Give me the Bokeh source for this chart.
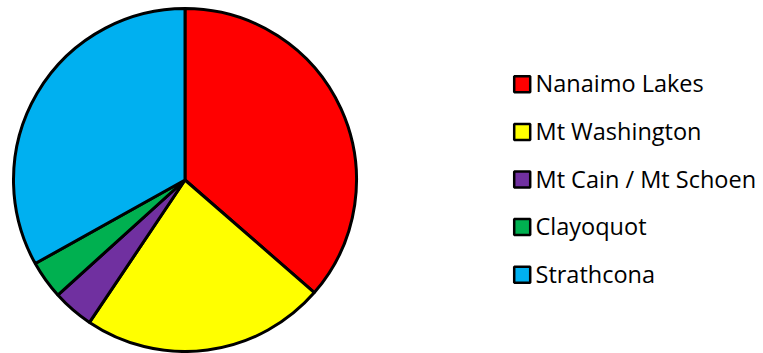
import numpy as np
from bokeh.plotting import figure
from bokeh.models import Range1d, ColumnDataSource
from bokeh.core.properties import value
from bokeh.embed import file_html
from bokeh.resources import INLINE

categories = ["Nanaimo Lakes", "Mt Washington", "Mt Cain / Mt Schoen", "Clayoquot", "Strathcona"]
shares = [36.4, 23.0, 3.9, 3.6, 33.1]
colors = ["#FF0000", "#FFFF00", "#7030A0", "#00B050", "#00B0F0"]

W, H = 763, 353
p = figure(width=W, height=H, output_backend="svg", toolbar_location=None,
           x_range=Range1d(0, W), y_range=Range1d(0, H),
           min_border=0, outline_line_color=None)
p.axis.visible = False
p.grid.visible = False
p.background_fill_color = "white"
p.border_fill_color = "white"

vals = np.array(shares, dtype=float)
frac = vals / vals.sum()
cum = np.concatenate([[0], np.cumsum(frac)]) * 2 * np.pi
# clockwise from 12 o'clock -> bokeh angles (counterclockwise from +x)
start = np.pi / 2 - cum[1:]
end = np.pi / 2 - cum[:-1]

cx, cy, r = 184.5, H - 179.5, 171.5
src = ColumnDataSource(dict(start=start, end=end, color=colors, name=categories))
p.wedge(x=cx, y=cy, radius=r, start_angle="start", end_angle="end",
        fill_color="color", line_color="black", line_width=3, source=src)

# legend
ly0 = 83.8
dy = 47.6
ys = [H - (ly0 + i * dy) for i in range(len(categories))]
lsrc = ColumnDataSource(dict(x=[521.7] * len(categories), y=ys, color=colors,
                             tx=[535] * len(categories), ty=[y + 1.0 for y in ys], name=categories))
p.rect(x="x", y="y", width=16, height=16, fill_color="color", line_color="black",
       line_width=2.5, source=lsrc)
p.text(x="tx", y="ty", text="name", text_font=value("Open Sans"), text_font_size="23.5px",
       text_baseline="middle", text_align="left", text_color="black", source=lsrc)

open("out.html", "w").write(file_html(p, INLINE))
